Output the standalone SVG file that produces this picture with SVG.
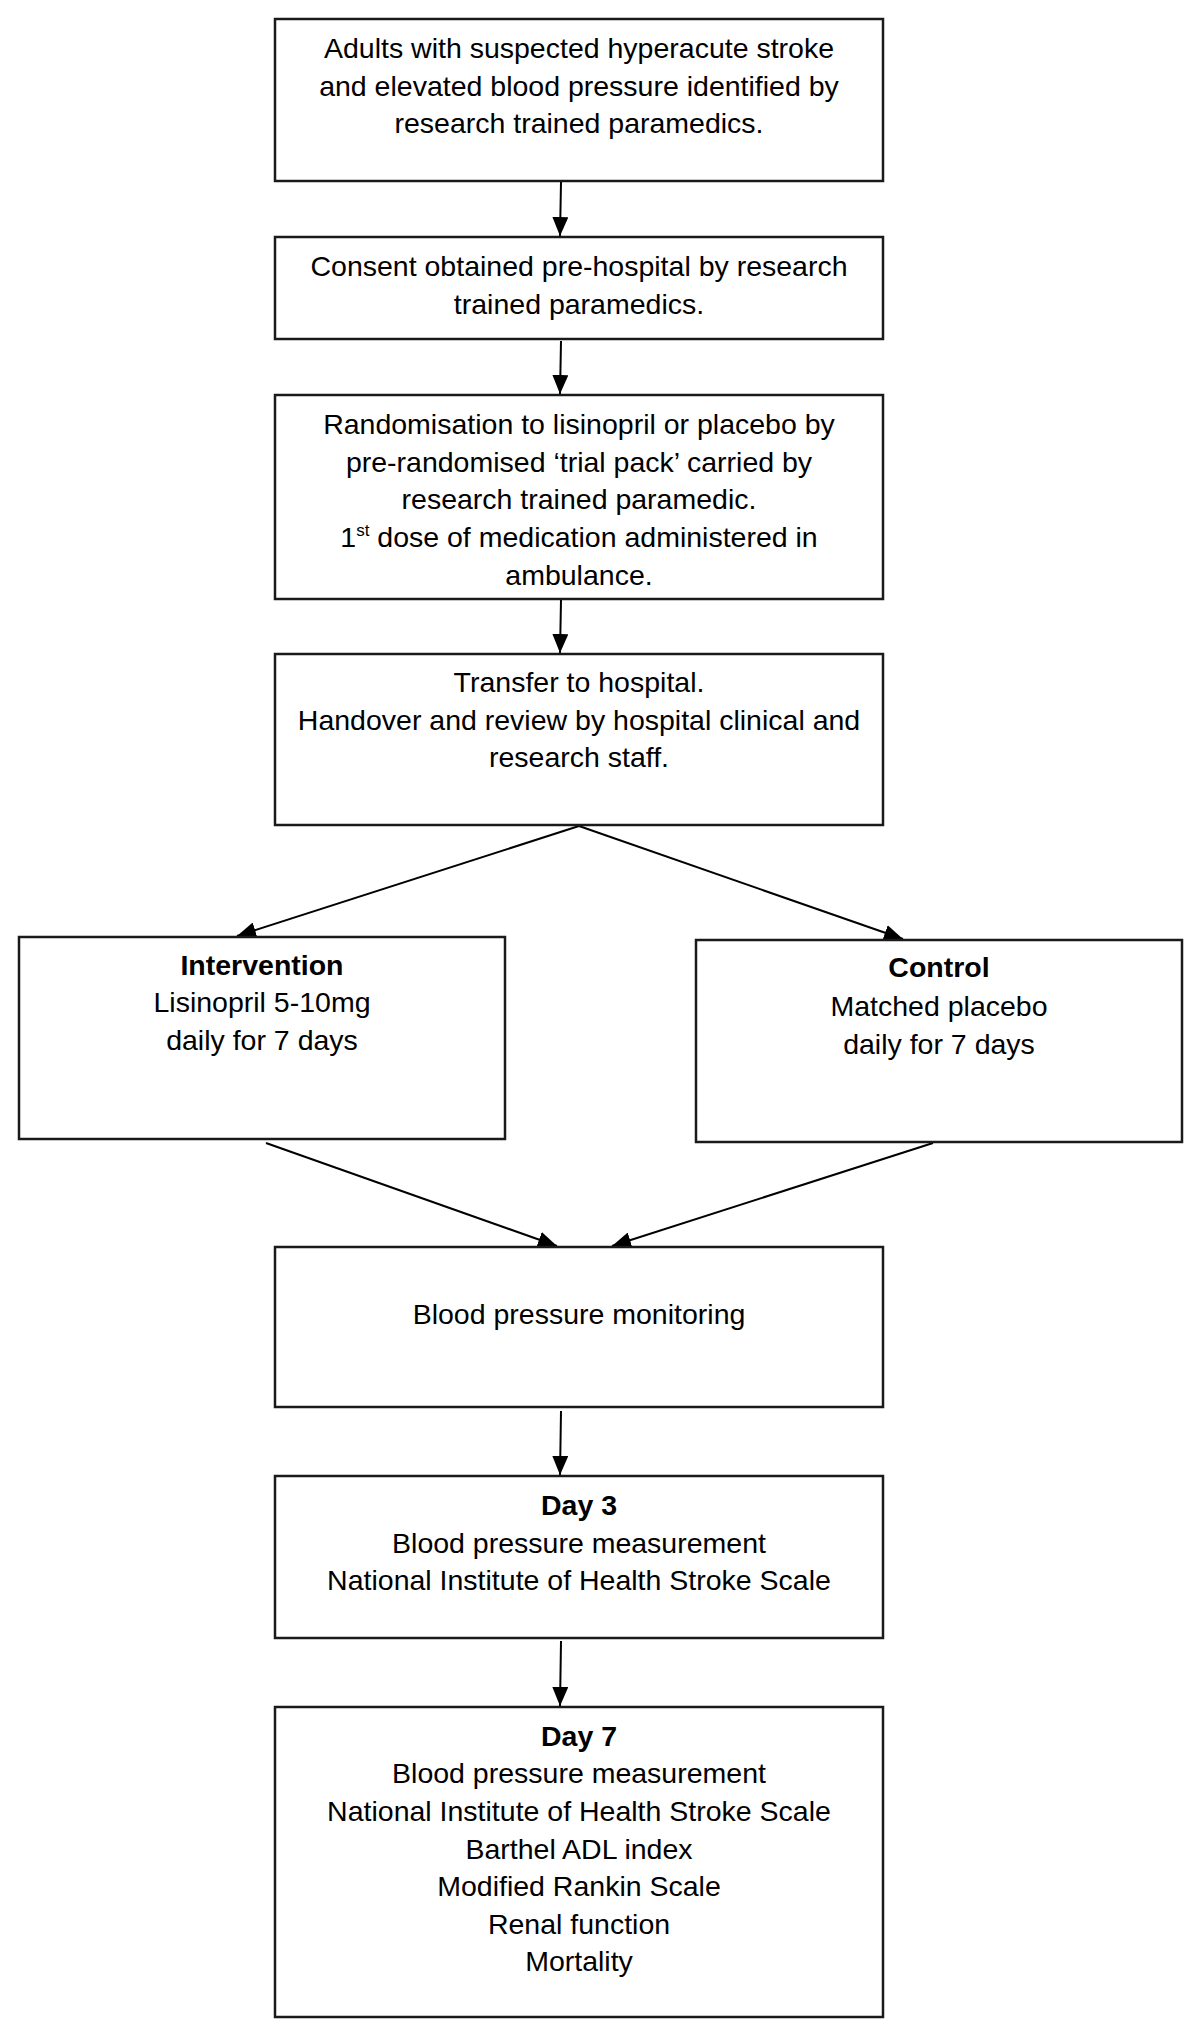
<svg xmlns="http://www.w3.org/2000/svg" width="1200" height="2033" viewBox="0 0 1200 2033">
<style>
.box{fill:#fff;stroke:#1a1a1a;stroke-width:2.5}
.t{font-family:"Liberation Sans",Arial,sans-serif;font-size:28.5px;fill:#000;text-anchor:middle}
.b{font-weight:bold}
.c{stroke:#000;stroke-width:2;fill:none;marker-end:url(#ah)}
</style>
<defs>
<marker id="ah" markerUnits="userSpaceOnUse" markerWidth="20" markerHeight="16" refX="19" refY="8" orient="auto">
<path d="M0,0 L19,8 L0,16 z" fill="#000"/>
</marker>
</defs>
<rect width="1200" height="2033" fill="#fff"/>
<g id="connectors">
<line class="c" x1="561" y1="182" x2="560" y2="236"/>
<line class="c" x1="561" y1="341" x2="560" y2="394"/>
<line class="c" x1="561" y1="600" x2="560" y2="653"/>
<line class="c" x1="579" y1="826" x2="237" y2="936"/>
<line class="c" x1="579" y1="826" x2="903" y2="939"/>
<line class="c" x1="266" y1="1143" x2="557" y2="1246"/>
<line class="c" x1="933" y1="1143" x2="612" y2="1246"/>
<line class="c" x1="561" y1="1411" x2="560" y2="1475"/>
<line class="c" x1="561" y1="1641" x2="560" y2="1706"/>
</g>
<g id="n1">
<rect class="box" x="275" y="19" width="608" height="162"/>
<text class="t" x="579" y="58">Adults with suspected hyperacute stroke</text>
<text class="t" x="579" y="96">and elevated blood pressure identified by</text>
<text class="t" x="579" y="133">research trained paramedics.</text>
</g>
<g id="n2">
<rect class="box" x="275" y="237" width="608" height="102"/>
<text class="t" x="579" y="276">Consent obtained pre-hospital by research</text>
<text class="t" x="579" y="314">trained paramedics.</text>
</g>
<g id="n3">
<rect class="box" x="275" y="395" width="608" height="204"/>
<text class="t" x="579" y="434">Randomisation to lisinopril or placebo by</text>
<text class="t" x="579" y="472">pre-randomised ‘trial pack’ carried by</text>
<text class="t" x="579" y="509">research trained paramedic.</text>
<text class="t" x="579" y="547">1<tspan font-size="17" dy="-11">st</tspan><tspan dy="11"> dose of medication administered in</tspan></text>
<text class="t" x="579" y="585">ambulance.</text>
</g>
<g id="n4">
<rect class="box" x="275" y="654" width="608" height="171"/>
<text class="t" x="579" y="692">Transfer to hospital.</text>
<text class="t" x="579" y="730">Handover and review by hospital clinical and</text>
<text class="t" x="579" y="767">research staff.</text>
</g>
<g id="n5">
<rect class="box" x="19" y="937" width="486" height="202"/>
<text class="t b" x="262" y="975">Intervention</text>
<text class="t" x="262" y="1012">Lisinopril 5-10mg</text>
<text class="t" x="262" y="1050">daily for 7 days</text>
</g>
<g id="n6">
<rect class="box" x="696" y="940" width="486" height="202"/>
<text class="t b" x="939" y="977">Control</text>
<text class="t" x="939" y="1016">Matched placebo</text>
<text class="t" x="939" y="1054">daily for 7 days</text>
</g>
<g id="n7">
<rect class="box" x="275" y="1247" width="608" height="160"/>
<text class="t" x="579" y="1324">Blood pressure monitoring</text>
</g>
<g id="n8">
<rect class="box" x="275" y="1476" width="608" height="162"/>
<text class="t b" x="579" y="1515">Day 3</text>
<text class="t" x="579" y="1553">Blood pressure measurement</text>
<text class="t" x="579" y="1590">National Institute of Health Stroke Scale</text>
</g>
<g id="n9">
<rect class="box" x="275" y="1707" width="608" height="310"/>
<text class="t b" x="579" y="1746">Day 7</text>
<text class="t" x="579" y="1783">Blood pressure measurement</text>
<text class="t" x="579" y="1821">National Institute of Health Stroke Scale</text>
<text class="t" x="579" y="1859">Barthel ADL index</text>
<text class="t" x="579" y="1896">Modified Rankin Scale</text>
<text class="t" x="579" y="1934">Renal function</text>
<text class="t" x="579" y="1971">Mortality</text>
</g>
</svg>
